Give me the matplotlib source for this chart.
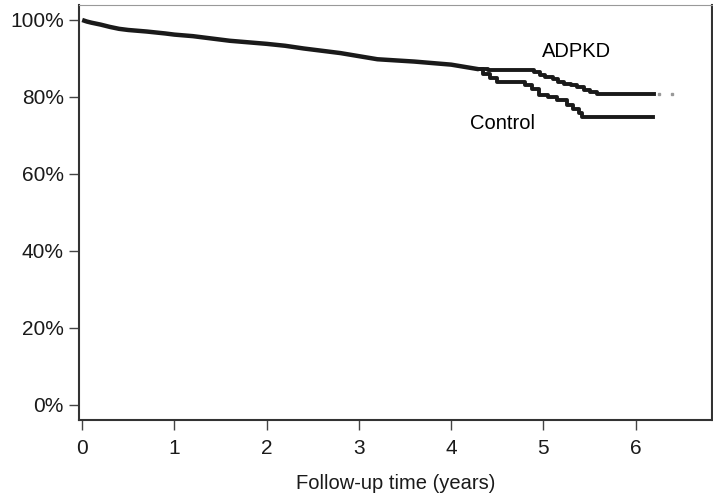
import matplotlib
matplotlib.use('Agg')
import matplotlib.pyplot as plt

plt.rcParams['font.family'] = ['Liberation Sans', 'DejaVu Sans']

# shared part of the two Kaplan-Meier curves (years, % event-free)
common_t = [0, 0.05, 0.1, 0.2, 0.3, 0.4, 0.5, 0.7, 0.9, 1.0, 1.2, 1.4, 1.6,
            1.8, 2.0, 2.2, 2.4, 2.6, 2.8, 3.0, 3.2, 3.4, 3.6, 3.8, 4.0, 4.15, 4.3]
common_s = [100, 99.6, 99.3, 98.8, 98.2, 97.7, 97.4, 97.0, 96.5, 96.2, 95.8, 95.2, 94.6,
            94.2, 93.8, 93.3, 92.6, 92.0, 91.4, 90.6, 89.8, 89.5, 89.2, 88.8, 88.4, 87.8, 87.2]

# after the split
adpkd_t = [4.3, 4.4, 4.9, 4.96, 5.02, 5.1, 5.16, 5.22, 5.3, 5.36, 5.44, 5.5, 5.58, 6.2]
adpkd_s = [87.2, 87.0, 86.4, 85.8, 85.2, 84.6, 84.0, 83.5, 83.0, 82.5, 81.9, 81.4, 80.8, 80.8]
adpkd_tail_t = [6.25, 6.39]
adpkd_tail_s = [80.8, 80.8]

control_t = [4.3, 4.35, 4.42, 4.5, 4.8, 4.88, 4.95, 5.05, 5.15, 5.25, 5.32, 5.38, 5.42, 6.19]
control_s = [87.2, 86.0, 84.8, 84.0, 83.0, 82.0, 80.6, 80.0, 79.3, 78.0, 77.0, 75.8, 74.8, 74.8]

fig = plt.figure(figsize=(7.13, 4.97), dpi=100)
ax = fig.add_axes([0.111, 0.155, 0.888, 0.835])

ink = '#1a1a1a'
ax.plot(common_t, common_s, color=ink, lw=3.2, solid_capstyle='butt')
ax.step(adpkd_t, adpkd_s, where='post', color=ink, lw=2.8)
ax.step(control_t, control_s, where='post', color=ink, lw=2.8)
ax.plot(adpkd_tail_t, adpkd_tail_s, ls='none', marker='s', ms=1.5, color='#999999')

ax.text(5.36, 91.9, 'ADPKD', ha='center', va='center', fontsize=14.5)
ax.text(4.56, 73.0, 'Control', ha='center', va='center', fontsize=14.5)

ax.set_xlim(-0.033, 6.83)
ax.set_ylim(-3.9, 103.9)
ax.set_xticks(range(7))
ax.set_yticks([0, 20, 40, 60, 80, 100])
ax.set_yticklabels(['0%', '20%', '40%', '60%', '80%', '100%'])
ax.tick_params(axis='both', direction='out', length=7, width=1, color='#444444',
               labelsize=15, labelcolor=ink)
ax.tick_params(axis='y', pad=4)
ax.tick_params(axis='x', pad=7)

ax.set_xlabel('Follow-up time (years)', fontsize=14.5, labelpad=11, color=ink)

for side in ['left', 'bottom', 'right']:
    ax.spines[side].set_color('#333333')
    ax.spines[side].set_linewidth(1.5)
ax.spines['top'].set_color('#999999')
ax.spines['top'].set_linewidth(0.8)

fig.savefig('out.png', dpi=100)
